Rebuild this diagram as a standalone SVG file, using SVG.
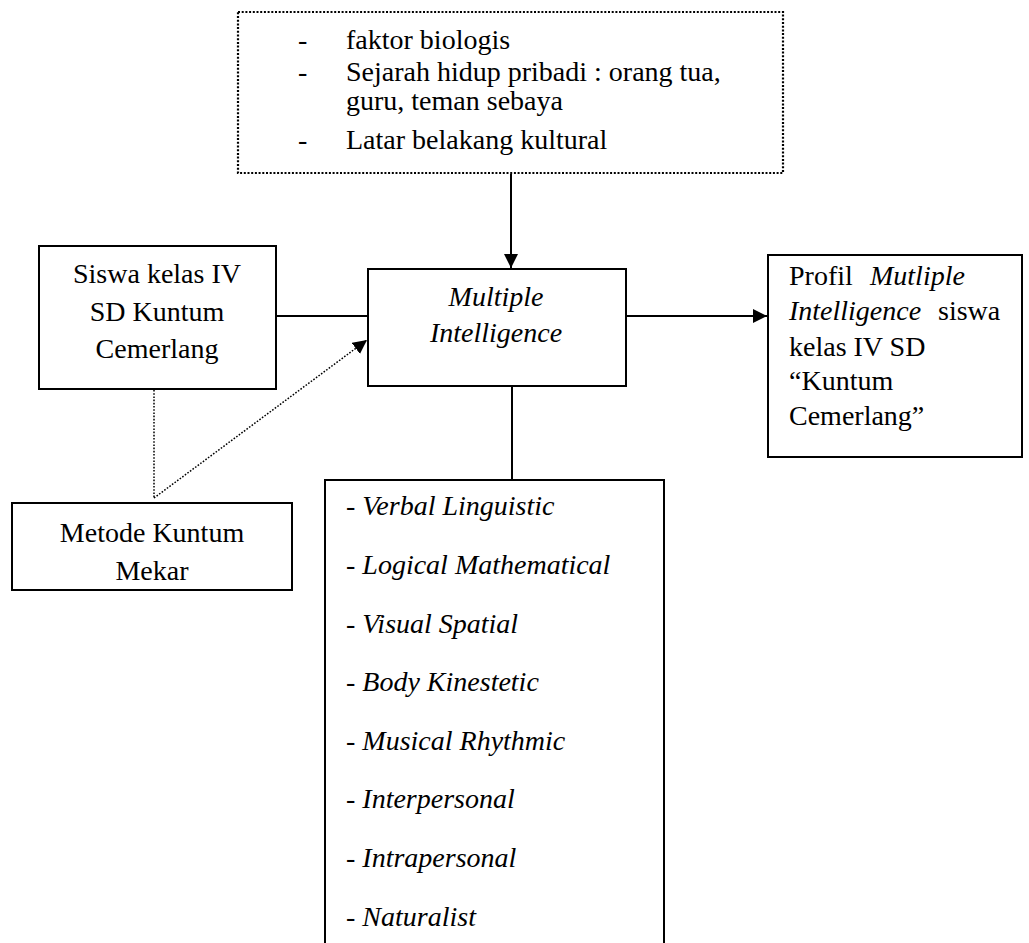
<svg xmlns="http://www.w3.org/2000/svg" width="1029" height="943" viewBox="0 0 1029 943">
<style>
.box{fill:#fff;stroke:#000;stroke-width:2}
.dotbox{fill:#fff;stroke:#000;stroke-width:2.2;stroke-dasharray:2 1.7}
.t{font-family:"Liberation Serif","Times New Roman",serif;font-size:28px;fill:#000}
.i{font-style:italic}
.c{text-anchor:middle}
.ln{stroke:#000;stroke-width:2;fill:none}
.dl{stroke:#000;stroke-width:1.5;fill:none;stroke-dasharray:1.6 1.6}
</style>
<defs>
<marker id="ah" markerUnits="userSpaceOnUse" markerWidth="16" markerHeight="16" refX="14" refY="7" orient="auto">
<path d="M0,0 L14,7 L0,14 Z" fill="#000"/>
</marker>
</defs>
<rect width="1029" height="943" fill="#fff"/>
<g id="connectors">
<line class="ln" x1="511" y1="174" x2="511" y2="268" marker-end="url(#ah)"/>
<line class="ln" x1="276" y1="316" x2="368" y2="316"/>
<line class="ln" x1="626" y1="316" x2="767" y2="316" marker-end="url(#ah)"/>
<line class="ln" x1="512" y1="386" x2="512" y2="480"/>
<line class="dl" x1="154" y1="390" x2="154" y2="498"/>
<line class="dl" x1="154" y1="498" x2="367" y2="340" marker-end="url(#ah)"/>
</g>
<g id="faktor">
<rect class="dotbox" x="238" y="12" width="545" height="161"/>
<text class="t" x="298" y="49">-</text>
<text class="t" x="346" y="49">faktor biologis</text>
<text class="t" x="298" y="81">-</text>
<text class="t" x="346" y="81">Sejarah hidup pribadi : orang tua,</text>
<text class="t" x="346" y="110">guru, teman sebaya</text>
<text class="t" x="298" y="149">-</text>
<text class="t" x="346" y="149">Latar belakang kultural</text>
</g>
<g id="siswa">
<rect class="box" x="39" y="246" width="237" height="143"/>
<text class="t c" x="157" y="283">Siswa kelas IV</text>
<text class="t c" x="157" y="321">SD Kuntum</text>
<text class="t c" x="157" y="358">Cemerlang</text>
</g>
<g id="mi">
<rect class="box" x="368" y="269" width="258" height="117"/>
<text class="t i c" x="496" y="306">Multiple</text>
<text class="t i c" x="496" y="342">Intelligence</text>
</g>
<g id="profil">
<rect class="box" x="768" y="255" width="254" height="202"/>
<text class="t" x="789" y="285">Profil</text>
<text class="t i" x="870" y="285">Mutliple</text>
<text class="t i" x="789" y="320">Intelligence</text>
<text class="t" x="938" y="320">siswa</text>
<text class="t" x="789" y="356">kelas IV SD</text>
<text class="t" x="789" y="390">“Kuntum</text>
<text class="t" x="789" y="425">Cemerlang”</text>
</g>
<g id="metode">
<rect class="box" x="12" y="503" width="280" height="87"/>
<text class="t c" x="152" y="542">Metode Kuntum</text>
<text class="t c" x="152" y="580">Mekar</text>
</g>
<g id="jenis">
<rect class="box" x="325" y="480" width="339" height="480"/>
<text class="t i" x="346" y="515">- Verbal Linguistic</text>
<text class="t i" x="346" y="574">- Logical Mathematical</text>
<text class="t i" x="346" y="633">- Visual Spatial</text>
<text class="t i" x="346" y="691">- Body Kinestetic</text>
<text class="t i" x="346" y="750">- Musical Rhythmic</text>
<text class="t i" x="346" y="808">- Interpersonal</text>
<text class="t i" x="346" y="867">- Intrapersonal</text>
<text class="t i" x="346" y="926">- Naturalist</text>
</g>
</svg>
